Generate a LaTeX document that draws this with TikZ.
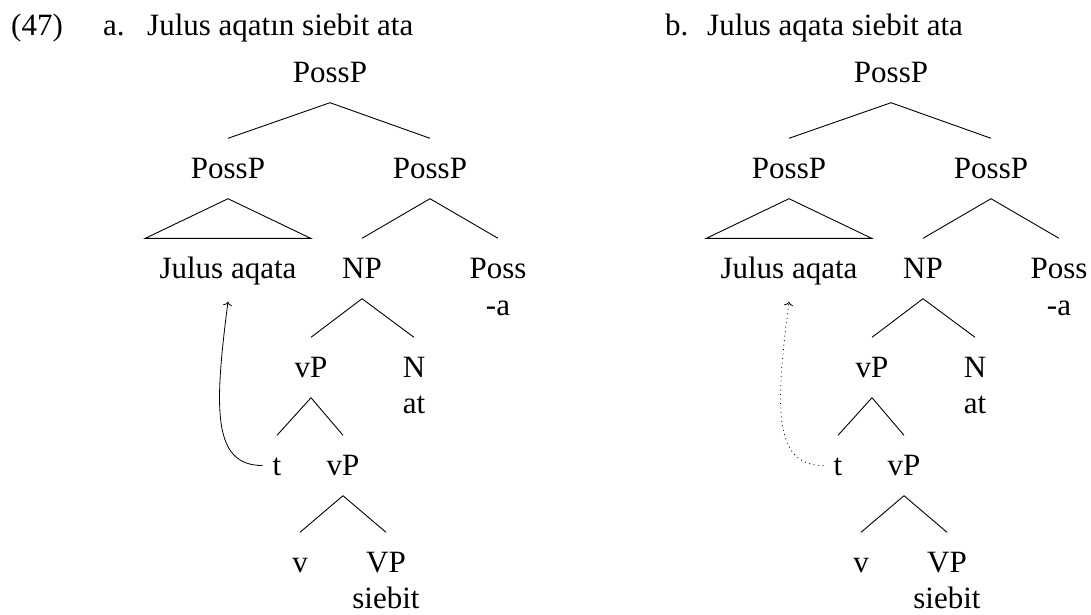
\documentclass[tikz,border=0pt]{standalone}
\usepackage{fontspec}
\setmainfont{LiberationSerif}[Extension=.ttf, UprightFont=*-Regular, BoldFont=*-Bold, ItalicFont=*-Italic]
\usetikzlibrary{arrows.meta}

\tikzset{
  lab/.style={anchor=base, inner xsep=4pt, inner ysep=20.5pt,
              text height=19pt, text depth=0pt},
  head/.style={anchor=base west, inner sep=0pt},
  edge/.style={line width=0.9pt, line join=miter},
  move/.style={line width=0.8pt, -{To[length=4pt,width=9pt]}},
}

% One PossP tree; #1 = name prefix, #2 = horizontal offset, #3 = style of the movement arrow
\newcommand\possptree[3]{%
  \begin{scope}[xshift=#2]
    \node[lab] (#1top)  at (330,82)  {PossP};
    \node[lab] (#1pl)   at (228,178) {PossP};
    \node[lab] (#1pr)   at (430,178) {PossP};
    \node[lab, inner xsep=14pt] (#1ja) at (228,278) {Julus aqata};
    \node[lab] (#1np)   at (362,278) {NP};
    \node[lab] (#1poss) at (498,278) {Poss};
    \node[lab] (#1suf)  at (498,315) {-a};
    \node[lab] (#1vp)   at (311,377) {vP};
    \node[lab] (#1n)    at (414,377) {N};
    \node[lab] (#1at)   at (414,413) {at};
    \node[lab] (#1t)    at (277,475) {t};
    \node[lab] (#1vpl)  at (343,475) {vP};
    \node[lab] (#1v)    at (300,572) {v};
    \node[lab] (#1VP)   at (386,572) {VP};
    \node[lab] (#1sb)   at (386,608) {siebit};
    % branches
    \draw[edge] (#1top.south) -- (#1pl.north);
    \draw[edge] (#1top.south) -- (#1pr.north);
    \draw[edge] (#1pl.south) -- (#1ja.north west) -- (#1ja.north east) -- cycle;
    \draw[edge] (#1pr.south) -- (#1np.north);
    \draw[edge] (#1pr.south) -- (#1poss.north);
    \draw[edge] (#1np.south) -- (#1vp.north);
    \draw[edge] (#1np.south) -- (#1n.north);
    \draw[edge] (#1vp.south) -- (#1t.north);
    \draw[edge] (#1vp.south) -- (#1vpl.north);
    \draw[edge] (#1vpl.south) -- (#1v.north);
    \draw[edge] (#1vpl.south) -- (#1VP.north);
    % movement of the possessor from the trace
    \draw[move,#3] ([xshift=-6pt]#1t.west) .. controls +(-50,0) and +(-14,108) .. ([yshift=-3pt]#1ja.south);
  \end{scope}}

\begin{document}
\begin{tikzpicture}[x=1pt, y=-1pt, font=\fontsize{31}{37}\selectfont]
  \useasboundingbox (0,0) rectangle (1091,614);
  \node[head] (num)   at (11,35)  {(47)};
  \node[head] (la)    at (103,35) {a.};
  \node[head] (exa)   at (147,35) {Julus aqatın siebit ata};
  \node[head] (lb)    at (665,35) {b.};
  \node[head] (exb)   at (707,35) {Julus aqata siebit ata};
  \possptree{a}{0}{}
  \possptree{b}{561}{dash pattern=on 0.9pt off 3.6pt}
\end{tikzpicture}
\end{document}
